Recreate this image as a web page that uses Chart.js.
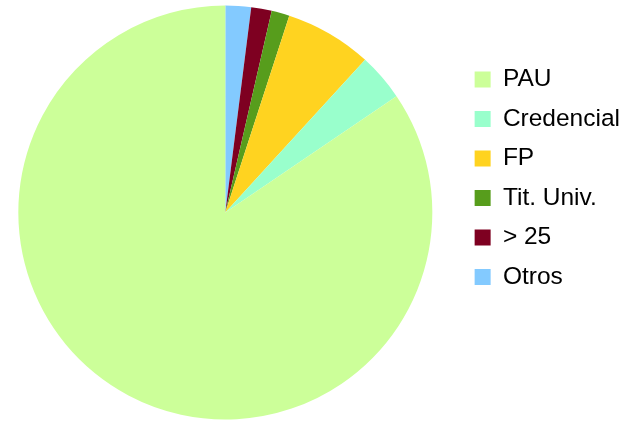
<!DOCTYPE html>
<html>
<head>
<meta charset="utf-8">
<script src="https://cdn.jsdelivr.net/npm/chart.js@4/dist/chart.umd.min.js"></script>
<style>
  html, body { margin: 0; padding: 0; background: #ffffff; overflow: hidden; }
  #wrap { width: 630px; height: 422px; overflow: hidden; position: relative; }
  #c { position: absolute; left: -9px; top: 0; }
</style>
</head>
<body>
<div id="wrap"><canvas id="c" width="639" height="422"></canvas></div>
<script>
const categories = ["PAU", "Credencial", "FP", "Tit. Univ.", "> 25", "Otros"];
const values = [84.5, 3.7, 6.8, 1.4, 1.6, 2.0];
const colors = ["#ccff99", "#99ffcc", "#ffd320", "#579d1c", "#7e0021", "#83caff"];

// Reference slices run counter-clockwise from 12 o'clock; Chart.js draws clockwise,
// so feed the series reversed and reverse the legend back.
const revLabels = categories.slice().reverse();
const revValues = values.slice().reverse();
const revColors = colors.slice().reverse();

new Chart(document.getElementById('c'), {
  type: 'pie',
  data: {
    labels: revLabels,
    datasets: [{
      data: revValues,
      backgroundColor: revColors,
      borderWidth: 0,
      hoverOffset: 0
    }]
  },
  options: {
    responsive: false,
    animation: false,
    devicePixelRatio: 1,
    layout: { padding: { left: 0, right: 0, top: 5.5, bottom: 2.5 } },
    plugins: {
      tooltip: { enabled: false },
      legend: {
        position: 'right',
        align: 'start',
        reverse: true,
        title: { display: true, text: '', font: { size: 10, lineHeight: 1 }, padding: { top: 36.75, bottom: 0 } },
        labels: {
          boxWidth: 16,
          boxHeight: 16,
          padding: 15,
          color: '#000000',
          font: { family: 'Liberation Sans', size: 24.5 }
        }
      }
    }
  }
});
</script>
</body>
</html>
